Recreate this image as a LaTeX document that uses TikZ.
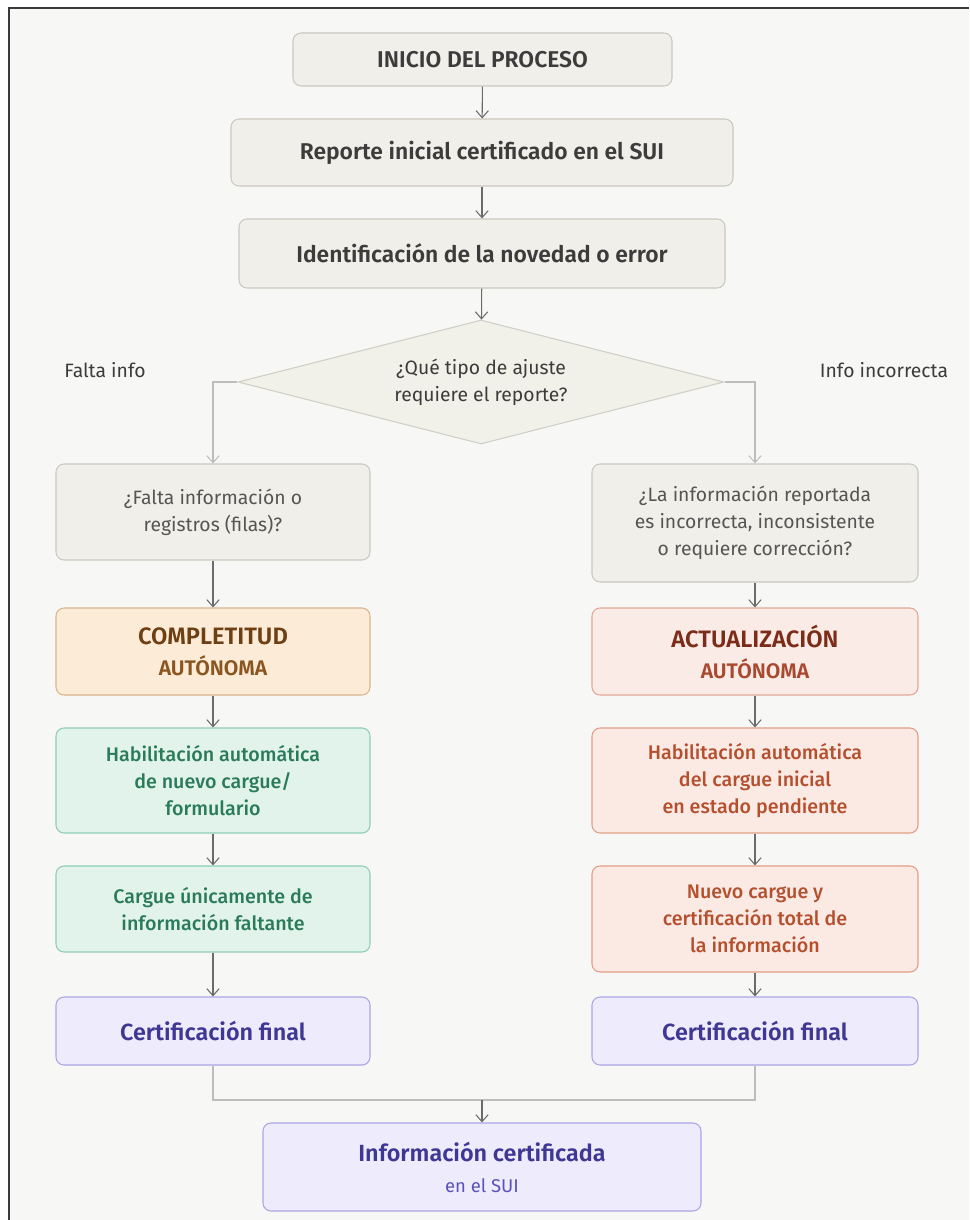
\documentclass[tikz,border=0pt]{standalone}
\usepackage{fontspec}
\setmainfont{Fira Sans}[BoldFont={Fira Sans SemiBold}]
\newfontfamily\mediumfont{Fira Sans Medium}
\usetikzlibrary{shapes.geometric,arrows.meta}

\definecolor{pagebg}{HTML}{F7F7F5}
\definecolor{framec}{HTML}{3A3A3A}
\definecolor{arrowc}{HTML}{6B6B6B}
\definecolor{linkc}{HTML}{BDBDBD}
\definecolor{grayfill}{HTML}{F1EFE9}
\definecolor{graydraw}{HTML}{CBC8C0}
\definecolor{graytext}{HTML}{3C3C3C}
\definecolor{qtext}{HTML}{555555}
\definecolor{diafill}{HTML}{F1F0E9}
\definecolor{diadraw}{HTML}{D0CFC6}
\definecolor{orfill}{HTML}{FBEBD7}
\definecolor{ordraw}{HTML}{D9B58C}
\definecolor{ortext}{HTML}{6E3F12}
\definecolor{orsub}{HTML}{8A5520}
\definecolor{redfill}{HTML}{FBEBE6}
\definecolor{reddraw}{HTML}{E3A797}
\definecolor{redtext}{HTML}{7B2D19}
\definecolor{redsub}{HTML}{A84A30}
\definecolor{grfill}{HTML}{E2F3EC}
\definecolor{grdraw}{HTML}{8FCDB4}
\definecolor{grtext}{HTML}{2A7B5A}
\definecolor{safill}{HTML}{FBEAE4}
\definecolor{sadraw}{HTML}{E39C86}
\definecolor{satext}{HTML}{B5502F}
\definecolor{pufill}{HTML}{EDEBFC}
\definecolor{pudraw}{HTML}{AAA5E6}
\definecolor{putext}{HTML}{3F3794}
\definecolor{pusub}{HTML}{5A52B8}

\tikzset{
  every box/.style={draw, rounded corners=1.6mm, align=center, inner sep=0pt, line width=0.6pt},
  box gray/.style={fill=grayfill, draw=graydraw, text=graytext,
    font=\fontsize{13}{16}\selectfont\bfseries},
  box question/.style={fill=grayfill, draw=graydraw, text=qtext,
    font=\fontsize{11}{15.4}\selectfont},
  box orange/.style={fill=orfill, draw=ordraw, text=ortext,
    font=\fontsize{13.5}{17.6}\selectfont\bfseries},
  box red/.style={fill=redfill, draw=reddraw, text=redtext,
    font=\fontsize{13.5}{17.6}\selectfont\bfseries},
  box green/.style={fill=grfill, draw=grdraw, text=grtext,
    font=\fontsize{11.2}{15.4}\selectfont\mediumfont},
  box salmon/.style={fill=safill, draw=sadraw, text=satext,
    font=\fontsize{11.2}{15.4}\selectfont\mediumfont},
  box purple/.style={fill=pufill, draw=pudraw, text=putext,
    font=\fontsize{13.3}{17.6}\selectfont\bfseries},
  left col/.style={minimum width=62.8mm},
  right col/.style={minimum width=65.2mm},
  flow/.style={->, draw=arrowc, line width=0.6pt},
  branch/.style={->, draw=linkc, line width=0.6pt},
  side label/.style={text=graytext, font=\fontsize{11}{13}\selectfont}
}

\begin{document}
\begin{tikzpicture}[x=0.2mm, y=-0.2mm, >={Straight Barb[length=4pt,width=7pt]}]

% page and frame
\useasboundingbox (0,0) rectangle (969,1220);
\fill [pagebg] (9,8) rectangle (969,1220);
\draw [framec, line width=0.8pt] (9,1220) -- (9,8) -- (969,8);

% main trunk
\node [every box, box gray, minimum width=75.8mm, minimum height=10.6mm] (start) at (482.5,59.5) {INICIO DEL PROCESO};
\node [every box, box gray, minimum width=100.4mm, minimum height=13.4mm] (report) at (482,152.5) {Reporte inicial certificado en el SUI};
\node [every box, box gray, minimum width=97.2mm, minimum height=13.8mm] (ident) at (482,253.5) {Identificación de la novedad o error};

% decision
\node [shape=diamond, aspect=3.92, draw=diadraw, fill=diafill, line width=0.6pt, inner sep=0pt,
  minimum width=97.2mm, minimum height=24.8mm, align=center, text=graytext,
  font=\fontsize{11}{15.4}\selectfont] (decide) at (481,382) {¿Qué tipo de ajuste\\requiere el reporte?};

\node [side label] (missing) at (105,370) {Falta info};
\node [side label] (wrong) at (884,370) {Info incorrecta};

% left branch
\node [every box, box question, left col, minimum height=19.2mm] (askL) at (213,512) {¿Falta información o\\registros (filas)?};
\node [every box, box orange, left col, minimum height=17.4mm] (kindL) at (213,651.5) {COMPLETITUD\\{\color{orsub}\fontsize{12}{14}\selectfont AUTÓNOMA}};
\node [every box, box green, left col, minimum height=21mm] (stepL-1) at (213,780.5) {Habilitación automática\\de nuevo cargue/\\formulario};
\node [every box, box green, left col, minimum height=17.2mm] (stepL-2) at (213,909) {Cargue únicamente de\\información faltante};
\node [every box, box purple, left col, minimum height=13.6mm] (certL) at (213,1031) {Certificación final};

% right branch
\node [every box, box question, right col, minimum height=23.6mm] (askR) at (755,523) {¿La información reportada\\es incorrecta, inconsistente\\o requiere corrección?};
\node [every box, box red, right col, minimum height=17.4mm] (kindR) at (755,651.5) {ACTUALIZACIÓN\\{\color{redsub}\fontsize{12}{14}\selectfont AUTÓNOMA}};
\node [every box, box salmon, right col, minimum height=21mm] (stepR-1) at (755,780.5) {Habilitación automática\\del cargue inicial\\en estado pendiente};
\node [every box, box salmon, right col, minimum height=21.2mm] (stepR-2) at (755,919) {Nuevo cargue y\\certificación total de\\la información};
\node [every box, box purple, right col, minimum height=13.6mm] (certR) at (755,1031) {Certificación final};

% result
\node [every box, box purple, minimum width=87.6mm, minimum height=17.6mm] (done) at (482,1167)
  {Información certificada\\{\color{pusub}\fontsize{10.5}{13}\selectfont\mdseries en el SUI}};

% connect the trunk
\draw [flow] (start) -- (report);
\draw [flow] (report) -- (ident);
\draw [flow] (ident) -- (decide);

% split
\draw [branch] (decide.west) -| (askL.north);
\draw [branch] (decide.east) -| (askR.north);

% connect each column
\foreach \a/\b in {askL/kindL, kindL/stepL-1, stepL-1/stepL-2, stepL-2/certL,
                   askR/kindR, kindR/stepR-1, stepR-1/stepR-2, stepR-2/certR}
  \draw [flow] (\a) -- (\b);

% merge
\coordinate (join) at (482,1100);
\draw [linkc, line width=0.6pt] (certL.south) |- (join) -| (certR.south);
\draw [flow] (join) -- (done);

\end{tikzpicture}
\end{document}
